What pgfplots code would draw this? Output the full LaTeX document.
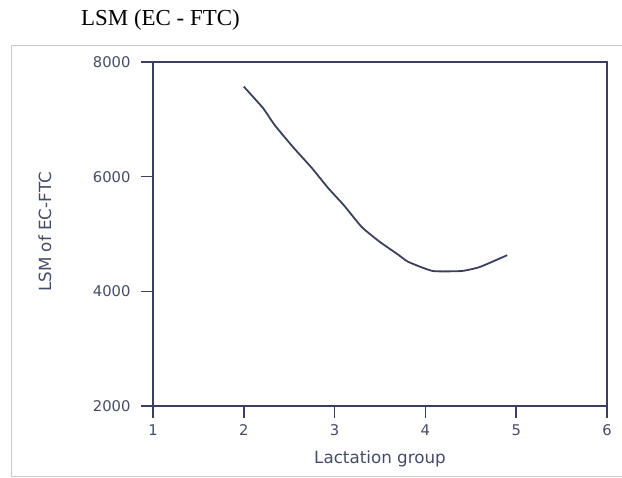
\documentclass[border=0pt]{standalone}
\usepackage{fontspec}
\setmainfont{DejaVu Sans}
\newfontfamily\timesfont{Liberation Serif}
\usepackage{pgfplots}
\pgfplotsset{compat=1.18}
\definecolor{axisnavy}{HTML}{3A3F5E}
\definecolor{textnavy}{HTML}{464B68}
\definecolor{framegray}{HTML}{C9C9C9}

\begin{document}
\begin{tikzpicture}[x=1bp,y=1bp]
\useasboundingbox (-153,-72) rectangle (469,406);
% outer frame and title
\draw[framegray, line width=1bp] (-141,-71) rectangle (480,360);
\node[anchor=base west, inner sep=0, font=\timesfont\fontsize{23}{27}\selectfont] at (-72,380) {LSM (EC - FTC)};
\begin{axis}[
    at={(0,0)}, anchor=south west,
    scale only axis, width=454bp, height=344bp,
    xmin=1, xmax=6, ymin=2000, ymax=8000,
    xtick={1,2,3,4,5,6}, ytick={2000,4000,6000,8000},
    xtick pos=lower, ytick pos=left,
    tick align=outside, major tick length=12bp,
    axis line style={axisnavy, line width=1.6bp},
    tick style={axisnavy, line width=1.6bp},
    /pgf/number format/1000 sep={},
    /pgf/number format/assume math mode=true,
    ticklabel style={font=\fontsize{14.8}{17}\selectfont, text=textnavy},
    yticklabel style={xshift=-7bp},
    xticklabel style={yshift=-3bp},
    xlabel={Lactation group}, ylabel={LSM of EC-FTC},
    label style={font=\fontsize{16.8}{19}\selectfont, text=textnavy},
    x label style={at={(axis description cs:0.5,0)}, anchor=base, yshift=-57bp},
    y label style={at={(axis description cs:-0.238,0.506)}, anchor=center},
  ]
  \addplot[axisnavy, line width=1.8bp, no marks, smooth, tension=0.3] coordinates {
    (2.00,7570) (2.21,7200) (2.34,6900) (2.54,6520) (2.75,6150)
    (2.93,5800) (3.10,5505) (3.30,5120) (3.50,4860) (3.70,4640)
    (3.81,4515) (4.08,4355) (4.40,4355) (4.60,4425) (4.90,4630)
  };
\end{axis}
\end{tikzpicture}
\end{document}
